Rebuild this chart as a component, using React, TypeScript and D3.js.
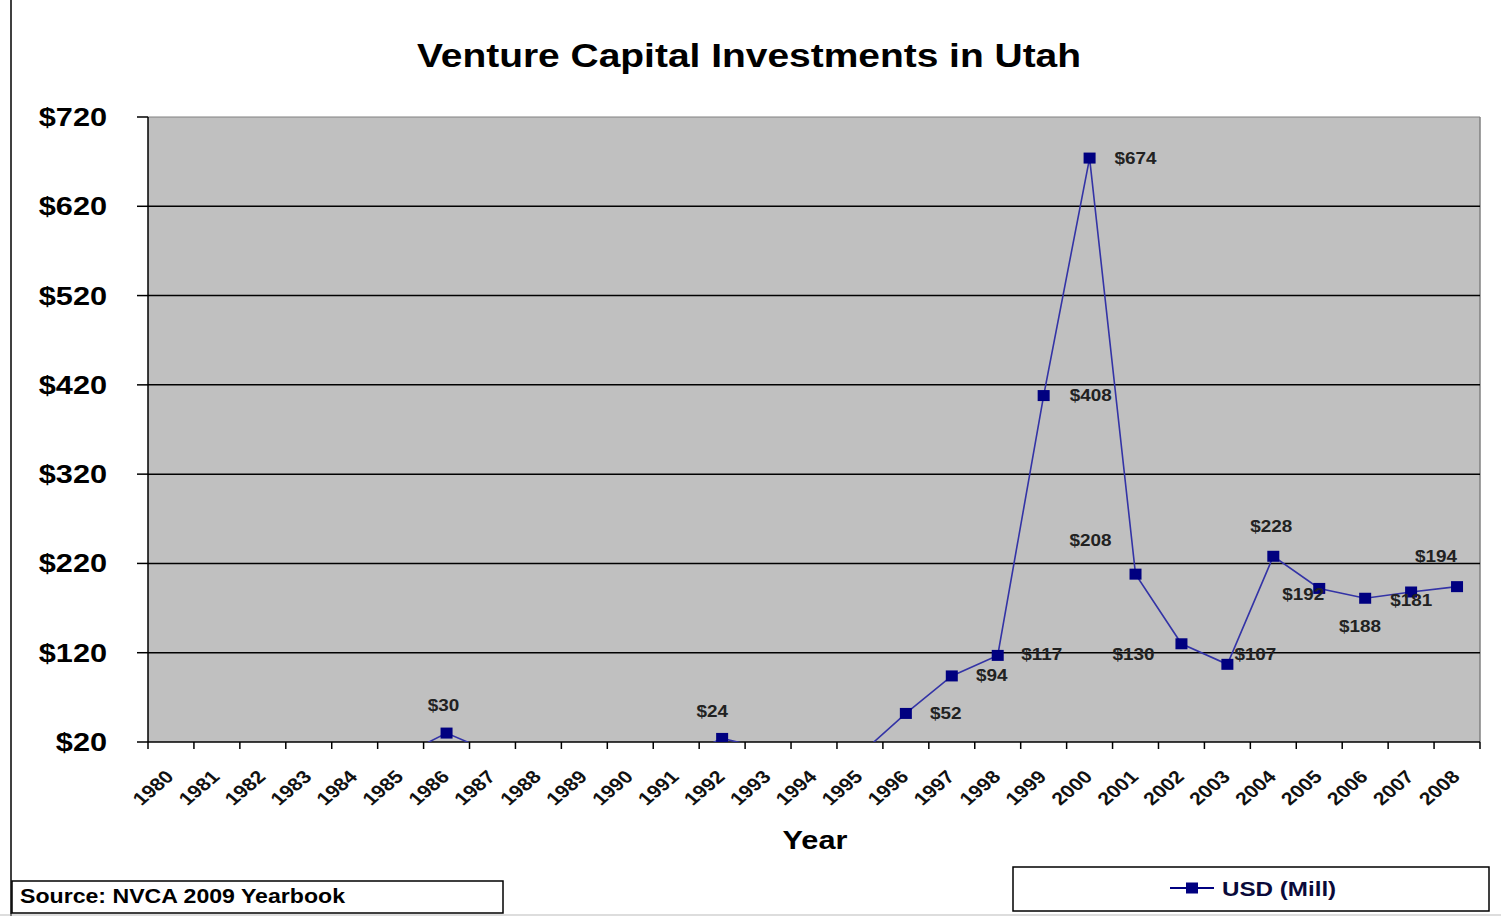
import React from "react";
import * as d3 from "d3";

// data (USD millions)
const years = [
  "1980", "1981", "1982", "1983", "1984", "1985", "1986", "1987", "1988", "1989",
  "1990", "1991", "1992", "1993", "1994", "1995", "1996", "1997", "1998", "1999",
  "2000", "2001", "2002", "2003", "2004", "2005", "2006", "2007", "2008",
];
const usdMill = [
  0, 0, 0, 0, 0, 4, 30, 8, 0, 0,
  0, 0, 24, 12, 0, 6, 52, 94, 117, 408,
  674, 208, 130, 107, 228, 192, 181, 188, 194,
];
const yTicks = [20, 120, 220, 320, 420, 520, 620, 720];

// where each data label sits relative to its marker (style only)
const labelDx = [0, 0, 0, 0, 0, 0, -3, 0, 0, 0, 0, 0, -10, 0, 0, 0, 40, 40, 44, 47, 46, -45, -48, 28, -2, -16, 46, -51, -21];
const labelDy = [0, 0, 0, 0, 0, 0, -28, 0, 0, 0, 0, 0, -27, 0, 0, 0, 0, -1, -1, -1, 0, -34, 10, -10, -30, 6, 2, 34, -31];

const W = 1501;
const H = 916;
const margin = { top: 117, right: 21, bottom: 174, left: 148 };
const SX = 1.18; // the original is stretched a little sideways
const font = "'Liberation Sans', Arial, sans-serif";
const navy = "#000080";

export default function App() {
  const x = d3.scaleBand().domain(years).range([margin.left, W - margin.right]).padding(0);
  const y = d3.scaleLinear().domain([20, 720]).range([H - margin.bottom, margin.top]);
  const cx = (yr: string) => (x(yr) as number) + x.bandwidth() / 2;
  const x0 = margin.left;
  const x1 = W - margin.right;
  const y0 = y(20);
  const yTop = y(720);

  const pts: [number, number][] = years.map((yr, i) => [cx(yr), y(usdMill[i])]);
  const lineGen = d3.line();

  return (
    <svg width={W} height={H} style={{ position: "absolute", left: 0, top: 0, display: "block", background: "#fff" }} fontFamily={font}>
      <defs>
        <clipPath id="plotClip">
          <rect x={x0} y={yTop} width={x1 - x0} height={y0 - yTop} />
        </clipPath>
      </defs>

      {/* page frame bits */}
      <line x1={11} x2={11} y1={0} y2={H} stroke="#000" strokeWidth={1.5} />
      <line x1={0} x2={W} y1={915} y2={915} stroke="#bbb" strokeWidth={1} />

      {/* title */}
      <text transform={`translate(749,67) scale(${SX},1)`} textAnchor="middle" fontSize={33} fontWeight="bold" fill="#000">
        Venture Capital Investments in Utah
      </text>

      {/* plot area */}
      <rect x={x0} y={yTop} width={x1 - x0} height={y0 - yTop} fill="#c0c0c0" />
      <line x1={x0} x2={x1} y1={yTop} y2={yTop} stroke="#808080" strokeWidth={1} />
      <line x1={x1} x2={x1} y1={yTop} y2={y0} stroke="#808080" strokeWidth={1.5} />
      {yTicks.slice(1, -1).map((t) => (
        <line key={t} x1={x0} x2={x1} y1={y(t)} y2={y(t)} stroke="#000" strokeWidth={1.5} />
      ))}

      {/* y axis */}
      <line x1={x0} x2={x0} y1={yTop} y2={y0} stroke="#000" strokeWidth={1.5} />
      {yTicks.map((t) => (
        <g key={t}>
          <line x1={x0 - 11} x2={x0} y1={y(t)} y2={y(t)} stroke="#000" strokeWidth={1.5} />
          <text transform={`translate(107,${y(t) + 9}) scale(${SX},1)`} textAnchor="end" fontSize={26} fontWeight="bold" fill="#000">
            {"$" + t}
          </text>
        </g>
      ))}

      {/* x axis */}
      <line x1={x0} x2={x1} y1={y0} y2={y0} stroke="#000" strokeWidth={1.5} />
      {years.map((yr) => (
        <line key={"t" + yr} x1={x(yr)} x2={x(yr)} y1={y0} y2={y0 + 7} stroke="#000" strokeWidth={1.5} />
      ))}
      <line x1={x1} x2={x1} y1={y0} y2={y0 + 7} stroke="#000" strokeWidth={1.5} />
      {years.map((yr) => (
        <text
          key={"l" + yr}
          transform={`translate(${cx(yr) + 4},${y0 + 36}) scale(${SX},1) rotate(-45)`}
          textAnchor="end"
          fontSize={18}
          fontWeight="bold"
          fill="#111"
        >
          {yr}
        </text>
      ))}
      <text transform={`translate(815,849) scale(${SX},1)`} textAnchor="middle" fontSize={26} fontWeight="bold" fill="#000">
        Year
      </text>

      {/* series */}
      <g clipPath="url(#plotClip)">
        <path d={lineGen(pts) || ""} fill="none" stroke="#3333a6" strokeWidth={1.6} />
        {pts.map(([px, py], i) => (
          <rect key={i} x={px - 6} y={py - 5.5} width={12} height={11} fill={navy} />
        ))}
      </g>

      {/* data labels */}
      {years.map((yr, i) =>
        usdMill[i] >= 20 ? (
          <text
            key={"d" + yr}
            transform={`translate(${pts[i][0] + labelDx[i]},${pts[i][1] + labelDy[i] + 6}) scale(${SX},1)`}
            textAnchor="middle"
            fontSize={16}
            fontWeight="bold"
            fill="#222"
          >
            {"$" + usdMill[i]}
          </text>
        ) : null
      )}

      {/* source box */}
      <rect x={12} y={881} width={491} height={32} fill="#fff" stroke="#000" strokeWidth={1.5} />
      <text transform={`translate(20,903) scale(${SX},1)`} fontSize={19.6} fontWeight="bold" fill="#000">
        Source: NVCA 2009 Yearbook
      </text>

      {/* legend */}
      <rect x={1013} y={867} width={476} height={44} fill="#fff" stroke="#000" strokeWidth={1.5} />
      <line x1={1170} x2={1214} y1={888} y2={888} stroke={navy} strokeWidth={2} />
      <rect x={1186} y={882.5} width={12} height={11} fill={navy} />
      <text transform={`translate(1222,896) scale(${SX},1)`} fontSize={20.5} fontWeight="bold" fill="#0a0a3a">
        USD (Mill)
      </text>
    </svg>
  );
}
